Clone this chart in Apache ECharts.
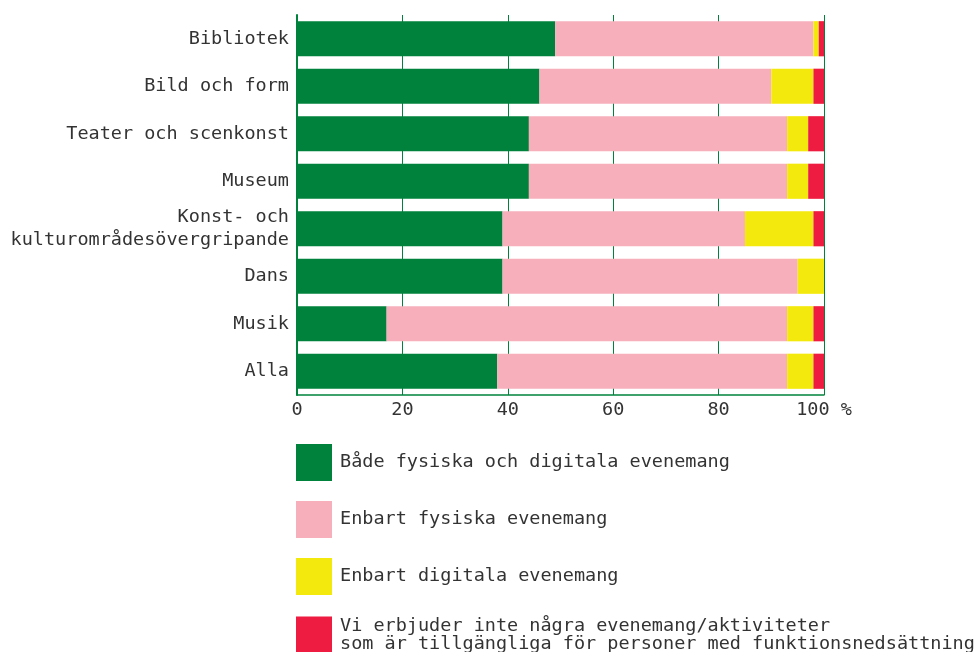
<!DOCTYPE html>
<html>
<head>
<meta charset="utf-8">
<script src="https://cdn.jsdelivr.net/npm/echarts@6/dist/echarts.min.js"></script>
<style>
  html, body { margin: 0; padding: 0; background: #fff; }
  #chart { width: 979px; height: 652px; }
</style>
</head>
<body>
<div id="chart"></div>
<script>
// categories, top to bottom
var categories = ['Bibliotek', 'Bild och form', 'Teater och scenkonst', 'Museum',
  'Konst- och\nkulturområdesövergripande', 'Dans', 'Musik', 'Alla']

var seriesNames = [
  'Både fysiska och digitala evenemang',
  'Enbart fysiska evenemang',
  'Enbart digitala evenemang',
  'Vi erbjuder inte några evenemang/aktiviteter\nsom är tillgängliga för personer med funktionsnedsättning'
]

// percent values per category
var bothValues = [49, 46, 44, 44, 39, 39, 17, 38]
var physicalValues = [49, 44, 49, 49, 46, 56, 76, 55]
var digitalValues = [1, 8, 4, 4, 13, 5, 5, 5]
var noneValues = [1, 2, 3, 3, 2, 0, 2, 2]

var xTicks = [0, 20, 40, 60, 80, 100]

var colors = ['#00823d', '#f6afbb', '#f4e90c', '#ee1c40']
var font = 'DejaVu Sans Mono'
var green = '#00823d'

var valueSets = [bothValues, physicalValues, digitalValues, noneValues]

var chart = echarts.init(document.getElementById('chart'))

var option = {
  animation: false,
  color: colors,
  grid: {
    left: 297,
    right: 155,
    top: 15,
    height: 380
  },
  legend: {
    orient: 'vertical',
    left: 296,
    top: 444,
    height: 300,
    padding: 0,
    itemWidth: 36,
    itemHeight: 37,
    itemGap: 20,
    icon: 'rect',
    data: seriesNames,
    textStyle: {
      fontFamily: font,
      fontSize: 18.5,
      color: '#333',
      lineHeight: 18,
      padding: [4, 0, 0, 3]
    }
  },
  xAxis: {
    type: 'value',
    min: 0,
    max: 100,
    interval: 20,
    axisLine: { show: true, lineStyle: { color: green, width: 1.5 } },
    axisTick: { show: false },
    splitLine: { show: true, lineStyle: { color: green, width: 1 } },
    axisLabel: {
      margin: 6,
      fontFamily: font,
      fontSize: 18.5,
      color: '#333',
      formatter: function (v) {
        if (xTicks.indexOf(v) < 0) return ''
        return v === 100 ? '100 %' : String(v)
      }
    }
  },
  yAxis: {
    type: 'category',
    inverse: true,
    data: categories,
    axisLine: { show: true, lineStyle: { color: green, width: 2 } },
    axisTick: { show: false },
    axisLabel: {
      margin: 8,
      fontFamily: font,
      fontSize: 18.5,
      lineHeight: 23,
      padding: [5, 0, 0, 0],
      color: '#333'
    }
  },
  series: seriesNames.map(function (name, i) {
    return {
      name: name,
      type: 'bar',
      stack: 'total',
      barWidth: '74%',
      data: valueSets[i],
      itemStyle: { color: colors[i] }
    }
  })
}

chart.setOption(option)
</script>
</body>
</html>
